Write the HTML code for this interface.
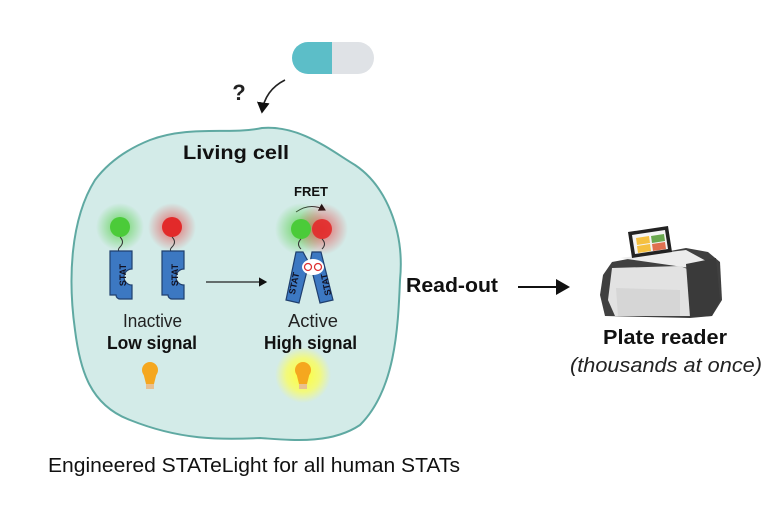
<!DOCTYPE html>
<html><head><meta charset="utf-8"><style>
body{margin:0;background:#fff}
svg{display:block;font-family:"Liberation Sans",sans-serif}
</style></head><body>
<svg width="768" height="511" viewBox="0 0 768 511">
<defs>
<radialGradient id="gg"><stop offset="0" stop-color="#4ccd3c" stop-opacity=".8"/><stop offset="1" stop-color="#4ccd3c" stop-opacity="0"/></radialGradient>
<radialGradient id="rg"><stop offset="0" stop-color="#e83030" stop-opacity=".7"/><stop offset="1" stop-color="#e83030" stop-opacity="0"/></radialGradient>
<radialGradient id="yg"><stop offset="0" stop-color="#ffff30" stop-opacity="1"/><stop offset=".6" stop-color="#ffff50" stop-opacity=".7"/><stop offset="1" stop-color="#ffff60" stop-opacity="0"/></radialGradient>
<marker id="ah" markerWidth="8" markerHeight="8" refX="6" refY="4" orient="auto"><path d="M0,0 L7,4 L0,8 z" fill="#111"/></marker>
</defs>
<path d="M150,140 C190,125 230,135 262,128 C300,125 330,150 355,165 C385,185 405,230 400,280 C398,330 395,390 360,425 C330,445 290,440 260,438 C220,440 180,440 130,420 C90,405 80,370 75,330 C68,280 70,220 95,180 C110,160 130,148 150,140 Z" fill="#d3ebe8" stroke="#5fa9a2" stroke-width="2"/>
<path d="M332,42 L308,42 A16,16 0 0 0 308,74 L332,74 Z" fill="#5cbec8"/>
<path d="M332,42 L358,42 A16,16 0 0 1 358,74 L332,74 Z" fill="#dfe2e6"/>
<text x="239" y="100" font-size="22" font-weight="bold" text-anchor="middle" fill="#222">?</text>
<path d="M285,80 Q265,90 262,112" fill="none" stroke="#222" stroke-width="1.6" marker-end="url(#ah)"/>
<text x="183" y="159" font-size="19" font-weight="bold" textLength="106" lengthAdjust="spacingAndGlyphs" fill="#111">Living cell</text>
<circle cx="120" cy="227" r="24" fill="url(#gg)"/>
<circle cx="172" cy="227" r="24" fill="url(#rg)"/>
<circle cx="120" cy="227" r="10" fill="#4bcb39"/>
<circle cx="172" cy="227" r="10" fill="#e22a2a"/>
<path d="M120,237 q5,5 0,10 q-4,4 2,5" fill="none" stroke="#333"/>
<path d="M172,237 q5,5 0,10 q-4,4 2,5" fill="none" stroke="#333"/>
<path d="M110,251 h22 v18 a8,8 0 0 0 0,16 v14 h-12 a4,4 0 0 1 -4,-4 h-6 z" fill="#3c78c2" stroke="#1f3f6e" stroke-width="1.2"/>
<path d="M162,251 h22 v18 a8,8 0 0 0 0,16 v14 h-12 a4,4 0 0 1 -4,-4 h-6 z" fill="#3c78c2" stroke="#1f3f6e" stroke-width="1.2"/>
<text transform="translate(126,275) rotate(-90)" font-size="9" font-weight="bold" text-anchor="middle" fill="#112">STAT</text>
<text transform="translate(178,275) rotate(-90)" font-size="9" font-weight="bold" text-anchor="middle" fill="#112">STAT</text>
<line x1="206" y1="282" x2="266" y2="282" stroke="#222" stroke-width="1.2" marker-end="url(#ah)"/>
<text x="311" y="196" font-size="13" font-weight="bold" text-anchor="middle" fill="#111">FRET</text>
<path d="M296,212 Q310,202 325,210" fill="none" stroke="#333" stroke-width="1" marker-end="url(#ah)"/>
<circle cx="301" cy="229" r="26" fill="url(#gg)"/>
<circle cx="322" cy="229" r="26" fill="url(#rg)"/>
<circle cx="301" cy="229" r="10" fill="#4bcb39"/>
<circle cx="322" cy="229" r="10" fill="#e22a2a" fill-opacity=".9"/>
<path d="M301,239 q-5,5 0,10" fill="none" stroke="#333"/>
<path d="M322,239 q5,5 0,10" fill="none" stroke="#333"/>
<path d="M303,252 l-7,0 l-10,48 l13,3 l10,-40 z" fill="#3c78c2" stroke="#1f3f6e" stroke-width="1.2"/>
<path d="M312,252 l9,0 l12,48 l-13,3 l-10,-40 z" fill="#3c78c2" stroke="#1f3f6e" stroke-width="1.2"/>
<ellipse cx="313" cy="267" rx="11" ry="8" fill="#fff"/>
<circle cx="308" cy="267" r="3.5" fill="none" stroke="#d33" stroke-width="1.3"/>
<circle cx="318" cy="267" r="3.5" fill="none" stroke="#d33" stroke-width="1.3"/>
<text transform="translate(297,284) rotate(-78)" font-size="9" font-weight="bold" text-anchor="middle" fill="#112">STAT</text>
<text transform="translate(329,284) rotate(-102)" font-size="9" font-weight="bold" text-anchor="middle" fill="#112">STAT</text>
<text x="123" y="327" font-size="18" textLength="59" lengthAdjust="spacingAndGlyphs" fill="#222">Inactive</text>
<text x="107" y="349" font-size="18" font-weight="bold" textLength="90" lengthAdjust="spacingAndGlyphs" fill="#111">Low signal</text>
<text x="288" y="327" font-size="18" textLength="50" lengthAdjust="spacingAndGlyphs" fill="#222">Active</text>
<text x="264" y="349" font-size="18" font-weight="bold" textLength="93" lengthAdjust="spacingAndGlyphs" fill="#111">High signal</text>
<circle cx="303" cy="375" r="28" fill="url(#yg)"/>
<g fill="#f5a71f">
<circle cx="150" cy="370" r="8"/><path d="M143,372 h14 l-3,12 h-8 z"/>
<circle cx="303" cy="370" r="8"/><path d="M296,372 h14 l-3,12 h-8 z"/>
</g>
<rect x="146" y="384" width="8" height="5" fill="#e8c090"/>
<rect x="299" y="384" width="8" height="5" fill="#e8c090"/>
<text x="406" y="292" font-size="20" font-weight="bold" textLength="92" lengthAdjust="spacingAndGlyphs" fill="#111">Read-out</text>
<line x1="518" y1="287" x2="568" y2="287" stroke="#111" stroke-width="2" marker-end="url(#ah)"/>
<path d="M612,262 L686,248 L708,252 L720,262 L722,300 L712,316 L690,318 L605,316 L600,295 L603,275 Z" fill="#404040"/>
<path d="M620,258 L686,250 L708,262 L690,268 Z" fill="#ececec"/>
<path d="M612,268 L680,266 L690,270 L690,316 L615,316 L608,300 Z" fill="#e2e2e2"/>
<path d="M616,288 L680,290 L680,316 L618,316 Z" fill="#d6d6d6"/>
<path d="M686,264 L716,258 L720,300 L712,316 L690,317 Z" fill="#3a3a3a"/>
<path d="M628,232 L668,226 L672,252 L632,258 Z" fill="#222"/>
<path d="M632,235 L665,230 L668,249 L635,254 Z" fill="#f4f4f4"/>
<path d="M636,238 L649,236 L650,243 L637,245 Z" fill="#f5c040"/><path d="M651,236 L664,234 L665,241 L652,243 Z" fill="#6aa84f"/>
<path d="M637,246 L650,244 L651,251 L638,253 Z" fill="#f5c040"/><path d="M652,244 L665,242 L666,249 L653,251 Z" fill="#e07050"/>
<text x="603" y="344" font-size="20" font-weight="bold" textLength="124" lengthAdjust="spacingAndGlyphs" fill="#111">Plate reader</text>
<text x="570" y="372" font-size="20" font-style="italic" textLength="192" lengthAdjust="spacingAndGlyphs" fill="#222">(thousands at once)</text>
<text x="48" y="472" font-size="20" textLength="412" lengthAdjust="spacingAndGlyphs" fill="#111">Engineered STATeLight for all human STATs</text>
</svg>
</body></html>
